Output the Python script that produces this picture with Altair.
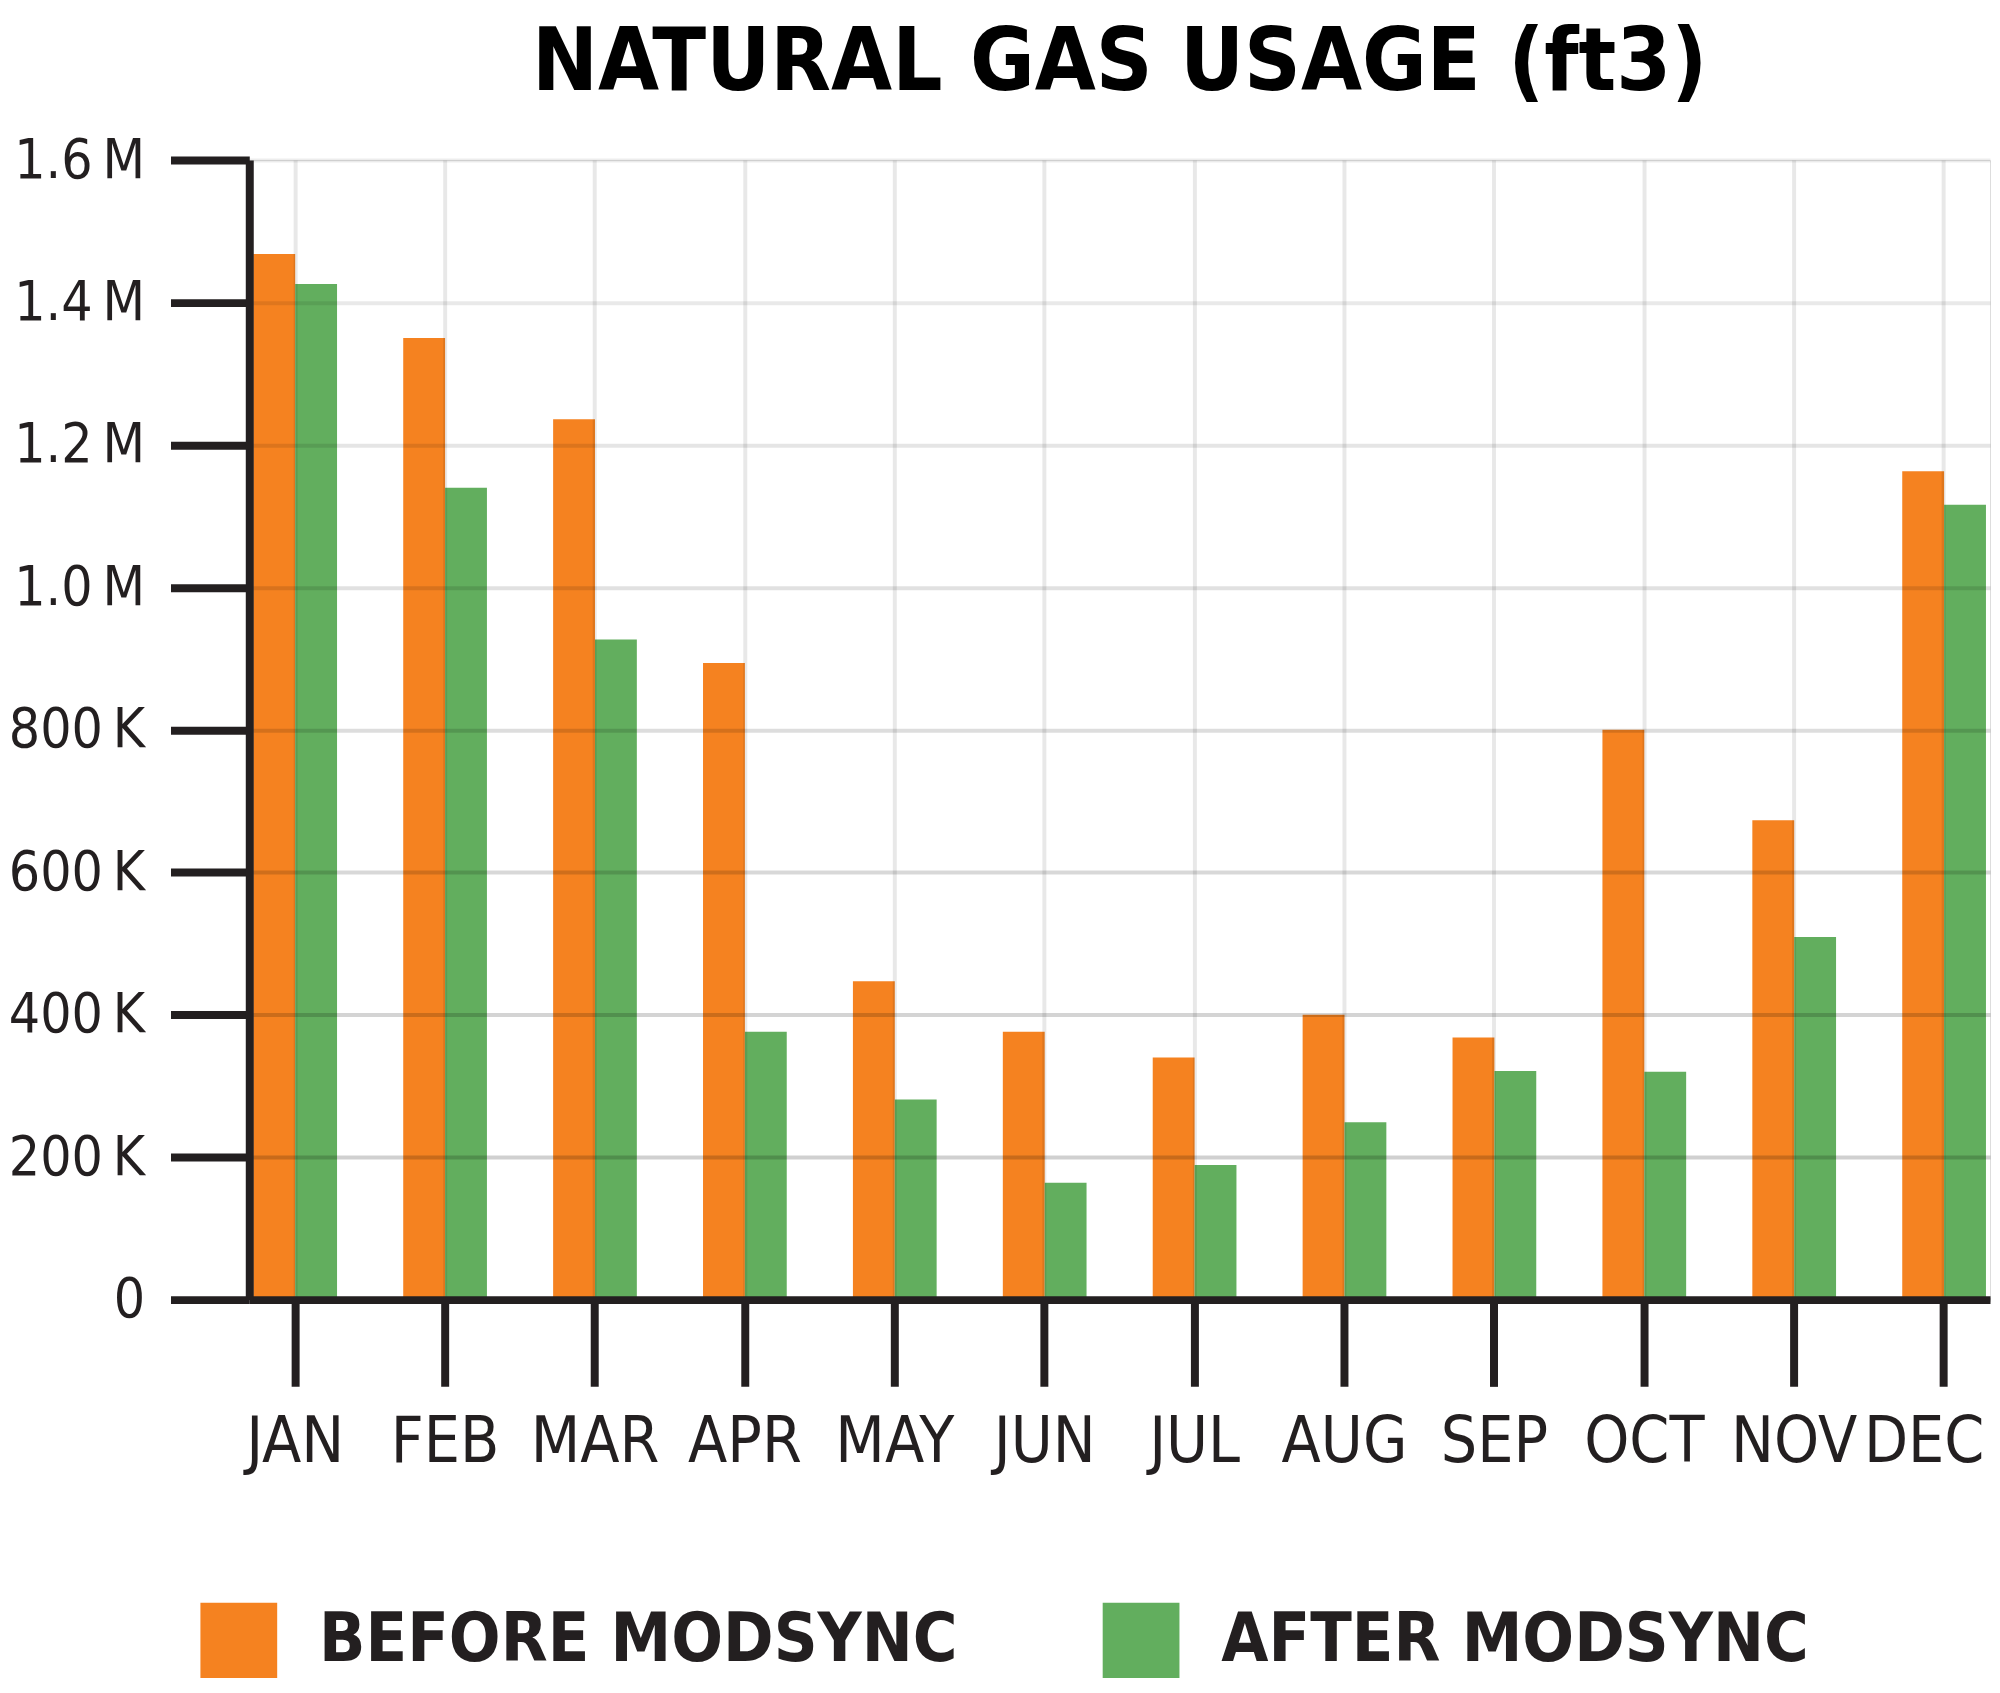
import altair as alt
import pandas as pd

months = ["JAN", "FEB", "MAR", "APR", "MAY", "JUN", "JUL", "AUG", "SEP", "OCT", "NOV", "DEC"]
series = ["BEFORE MODSYNC", "AFTER MODSYNC"]
before = [1468000, 1350000, 1236000, 894000, 447000, 376000, 340000, 400000, 368000, 800000, 673000, 1163000]
after = [1426000, 1140000, 927000, 376000, 281000, 164000, 189000, 249000, 321000, 320000, 509000, 1116000]
colors = ["#F58220", "#62AE5E"]
y_ticks = [0, 200000, 400000, 600000, 800000, 1000000, 1200000, 1400000, 1600000]

rows = []
for m, b, a in zip(months, before, after):
    rows.append({"month": m, "series": series[0], "value": b})
    rows.append({"month": m, "series": series[1], "value": a})
df = pd.DataFrame(rows)

FONT = "'Liberation Sans Narrow', 'DejaVu Sans Condensed', sans-serif"
INK = "#231F20"

chart = alt.Chart(df).mark_bar(opacity=1).encode(
    x=alt.X(
        "month:N",
        sort=months,
        scale=alt.Scale(paddingInner=0.4415, paddingOuter=0.027),
        axis=alt.Axis(
            title=None,
            labelAngle=0,
            bandPosition=0.5,
            tickSize=87,
            tickWidth=8,
            tickColor=INK,
            domainWidth=8,
            domainColor=INK,
            labelFont=FONT,
            labelFontSize=64,
            labelColor=INK,
            labelPadding=24,
            labelOffset=alt.ExprRef("datum.value == 'DEC' ? -20 : 0"),
            grid=True,
            gridColor="#000000",
            gridOpacity=0.09,
            gridWidth=4,
            zindex=1,
        ),
    ),
    xOffset=alt.XOffset("series:N", sort=series),
    y=alt.Y(
        "value:Q",
        scale=alt.Scale(domain=[0, 1600000], nice=False),
        axis=alt.Axis(
            title=None,
            values=y_ticks,
            labelExpr="datum.value == 0 ? '0' : (datum.value >= 1000000 ? format(datum.value / 1000000, '.1f') + '\u2009M' : format(datum.value / 1000, 'd') + '\u2009K')",
            tickSize=79,
            tickWidth=8,
            tickColor=INK,
            domainWidth=8,
            domainColor=INK,
            labelFont=FONT,
            labelFontSize=55,
            labelColor=INK,
            labelPadding=26,
            grid=True,
            gridColor="#000000",
            gridOpacity=alt.ExprRef("0.2 - 0.13 * datum.value / 1600000"),
            gridWidth=4,
            zindex=1,
        ),
    ),
    color=alt.Color(
        "series:N",
        sort=series,
        scale=alt.Scale(domain=series, range=colors),
        legend=alt.Legend(
            title=None,
            orient="none",
            legendX=-49,
            legendY=1447,
            direction="horizontal",
            symbolType="square",
            symbolSize=5929,
            symbolStrokeWidth=0,
            symbolOpacity=1,
            labelFont=FONT,
            labelFontSize=68,
            labelFontWeight="bold",
            labelColor=INK,
            labelOffset=42,
            labelLimit=0,
            columnPadding=145,
            padding=0,
        ),
    ),
).properties(
    width=1746,
    height=1143,
    title=alt.TitleParams(
        "NATURAL GAS USAGE (ft3)",
        font=FONT,
        fontSize=88,
        fontWeight="bold",
        color="#000000",
        anchor="middle",
        offset=25,
    ),
    autosize=alt.AutoSizeParams(type="none"),
    padding={"left": 242, "top": 150, "right": 2, "bottom": 377},
).configure_view(
    stroke=INK,
    strokeWidth=8,
).configure(background="white")

chart.save("out.html", embed_options={"renderer": "svg", "actions": False})
